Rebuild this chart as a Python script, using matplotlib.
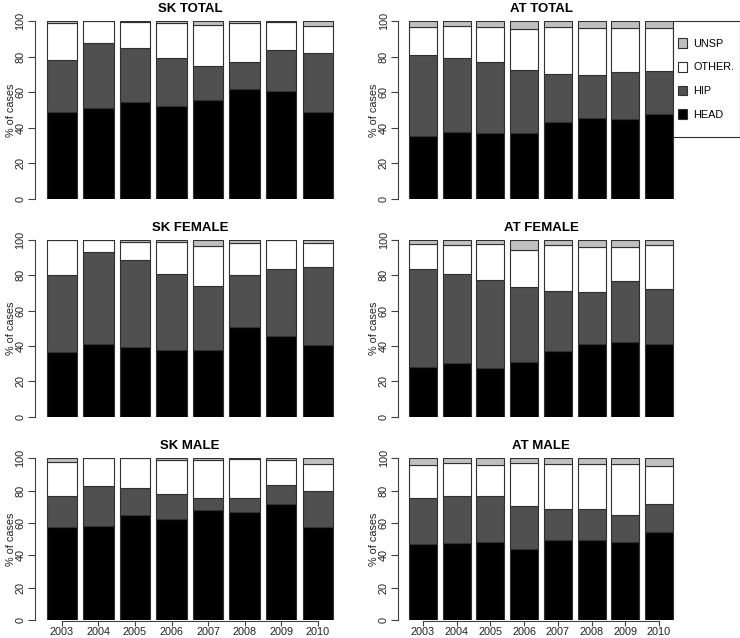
import matplotlib
matplotlib.use("Agg")
import matplotlib.pyplot as plt
from matplotlib.patches import Patch, Rectangle
import numpy as np

plt.rcParams['font.family'] = ['Liberation Sans', 'DejaVu Sans']

years = ['2003', '2004', '2005', '2006', '2007', '2008', '2009', '2010']
categories = ['HEAD', 'HIP', 'OTHER.', 'UNSP']

sk_total_head = [49.1, 51.3, 54.7, 52.2, 55.6, 61.6, 60.5, 49.1]
sk_total_hip = [29.0, 36.2, 29.9, 26.8, 18.9, 15.6, 23.0, 32.7]
sk_total_other = [20.6, 12.5, 14.8, 19.7, 23.3, 21.5, 15.8, 15.4]
sk_total_unsp = [1.3, 0.0, 0.6, 1.3, 2.2, 1.3, 0.7, 2.8]

at_total_head = [35.4, 37.8, 36.9, 37.1, 43.4, 45.5, 45.1, 47.9]
at_total_hip = [45.5, 41.2, 40.1, 35.4, 26.8, 24.2, 26.2, 24.0]
at_total_other = [15.9, 18.0, 19.8, 22.8, 26.6, 26.2, 24.8, 24.2]
at_total_unsp = [3.2, 3.0, 3.2, 4.7, 3.2, 4.1, 3.9, 3.9]

sk_female_head = [36.4, 41.3, 39.2, 37.9, 37.5, 50.6, 45.7, 40.6]
sk_female_hip = [43.6, 51.7, 49.7, 42.9, 36.3, 29.6, 37.9, 43.9]
sk_female_other = [20.0, 7.0, 9.8, 17.9, 22.8, 18.1, 16.4, 13.6]
sk_female_unsp = [0.0, 0.0, 1.3, 1.3, 3.4, 1.7, 0.0, 1.9]

at_female_head = [28.3, 30.4, 27.4, 31.1, 37.2, 41.1, 42.1, 41.3]
at_female_hip = [55.3, 50.4, 49.8, 42.1, 33.9, 29.3, 34.9, 31.0]
at_female_other = [13.9, 16.2, 20.3, 21.3, 26.3, 25.6, 19.0, 24.7]
at_female_unsp = [2.5, 3.0, 2.5, 5.5, 2.6, 4.0, 4.0, 3.0]

sk_male_head = [57.3, 58.4, 64.9, 62.7, 68.0, 66.6, 71.5, 57.3]
sk_male_hip = [19.4, 24.5, 17.0, 15.0, 7.3, 9.1, 12.2, 22.5]
sk_male_other = [20.8, 17.1, 18.1, 21.1, 23.5, 23.7, 15.1, 16.5]
sk_male_unsp = [2.5, 0.0, 0.0, 1.2, 1.2, 0.6, 1.2, 3.7]

at_male_head = [47.0, 47.4, 48.5, 43.7, 49.7, 49.7, 48.2, 54.6]
at_male_hip = [28.3, 29.3, 28.2, 27.0, 18.8, 18.8, 16.7, 17.4]
at_male_other = [20.6, 20.2, 19.2, 26.2, 28.0, 28.0, 31.6, 23.3]
at_male_unsp = [4.1, 3.1, 4.1, 3.1, 3.5, 3.5, 3.5, 4.7]

colors = ['#000000', '#505050', '#ffffff', '#c0c0c0']
edge = '#303030'
axcol = '#404040'

W, H = 740, 638
fig = plt.figure(figsize=(W / 100, H / 100), dpi=100)

def fx(px):
    return px / W

def fy(py):
    return 1 - py / H

rows = [(21, 199), (240, 416.7), (458.3, 620)]
cols = [(35.2, 344.5), (398.4, 683.6)]

panels = [
    ('SK TOTAL', [sk_total_head, sk_total_hip, sk_total_other, sk_total_unsp]),
    ('AT TOTAL', [at_total_head, at_total_hip, at_total_other, at_total_unsp]),
    ('SK FEMALE', [sk_female_head, sk_female_hip, sk_female_other, sk_female_unsp]),
    ('AT FEMALE', [at_female_head, at_female_hip, at_female_other, at_female_unsp]),
    ('SK MALE', [sk_male_head, sk_male_hip, sk_male_other, sk_male_unsp]),
    ('AT MALE', [at_male_head, at_male_hip, at_male_other, at_male_unsp]),
]

x = 0.7 + 1.2 * np.arange(len(years))
fs = 7.8

for i, (title, series) in enumerate(panels):
    r, c = divmod(i, 2)
    top, bot = rows[r]
    left, right = cols[c]
    ax = fig.add_axes([fx(left), fy(bot), fx(right) - fx(left), (bot - top) / H])
    bottom = np.zeros(len(years))
    for vals, col in zip(series, colors):
        vals = np.array(vals)
        ax.bar(x, vals, width=1.0, bottom=bottom, color=col, edgecolor=edge,
               linewidth=0.8)
        bottom = bottom + vals
    ax.set_xlim(-0.176, 9.976)
    ax.set_ylim(0, 100)
    ax.set_facecolor('none')
    for s in ['top', 'right']:
        ax.spines[s].set_visible(False)
    ax.spines['left'].set_bounds(0, 100)
    ax.spines['left'].set_color(axcol)
    ax.spines['left'].set_linewidth(0.8)
    ax.set_yticks([0, 20, 40, 60, 80, 100])
    ax.set_yticklabels(['0', '20', '40', '60', '80', '100'], rotation=90,
                       va='center', fontsize=fs, color='#222222')
    ax.tick_params(axis='y', length=5, width=0.8, color=axcol, pad=2)
    if r == 2:
        ax.spines['bottom'].set_bounds(x[0], x[-1])
        ax.spines['bottom'].set_color(axcol)
        ax.spines['bottom'].set_linewidth(0.8)
        ax.spines['bottom'].set_position(('outward', 1))
        ax.set_xticks(x)
        ax.set_xticklabels(years, fontsize=fs, color='#222222')
        ax.tick_params(axis='x', length=3.5, width=0.8, color=axcol, pad=0.8)
    else:
        ax.spines['bottom'].set_visible(False)
        ax.set_xticks([])
    ax.set_ylabel('% of cases', fontsize=fs, color='#222222')
    ax.yaxis.set_label_coords(-19.5 / (right - left), 0.5)
    ax.set_title(title, fontsize=9.5, fontweight='bold', pad=6.6)

# legend
lx0, lx1, ly0, ly1 = 673, 739.5, 21, 137
fig.add_artist(Rectangle((fx(lx0), fy(ly1)), fx(lx1) - fx(lx0), (ly1 - ly0) / H,
                         transform=fig.transFigure, facecolor='white',
                         edgecolor='#303030', linewidth=0.8))
handles = [Patch(facecolor=colors[k], edgecolor='#303030', linewidth=0.8,
                 label=categories[k]) for k in [3, 2, 1, 0]]
fig.legend(handles=handles, loc='center', frameon=False,
           bbox_to_anchor=(fx((lx0 + lx1) / 2), fy((ly0 + ly1) / 2)),
           fontsize=7.8, handlelength=0.8, handleheight=1.0, handletextpad=0.6,
           labelspacing=1.2, borderpad=0.0, borderaxespad=0.0)

fig.savefig('out.png', dpi=100)
